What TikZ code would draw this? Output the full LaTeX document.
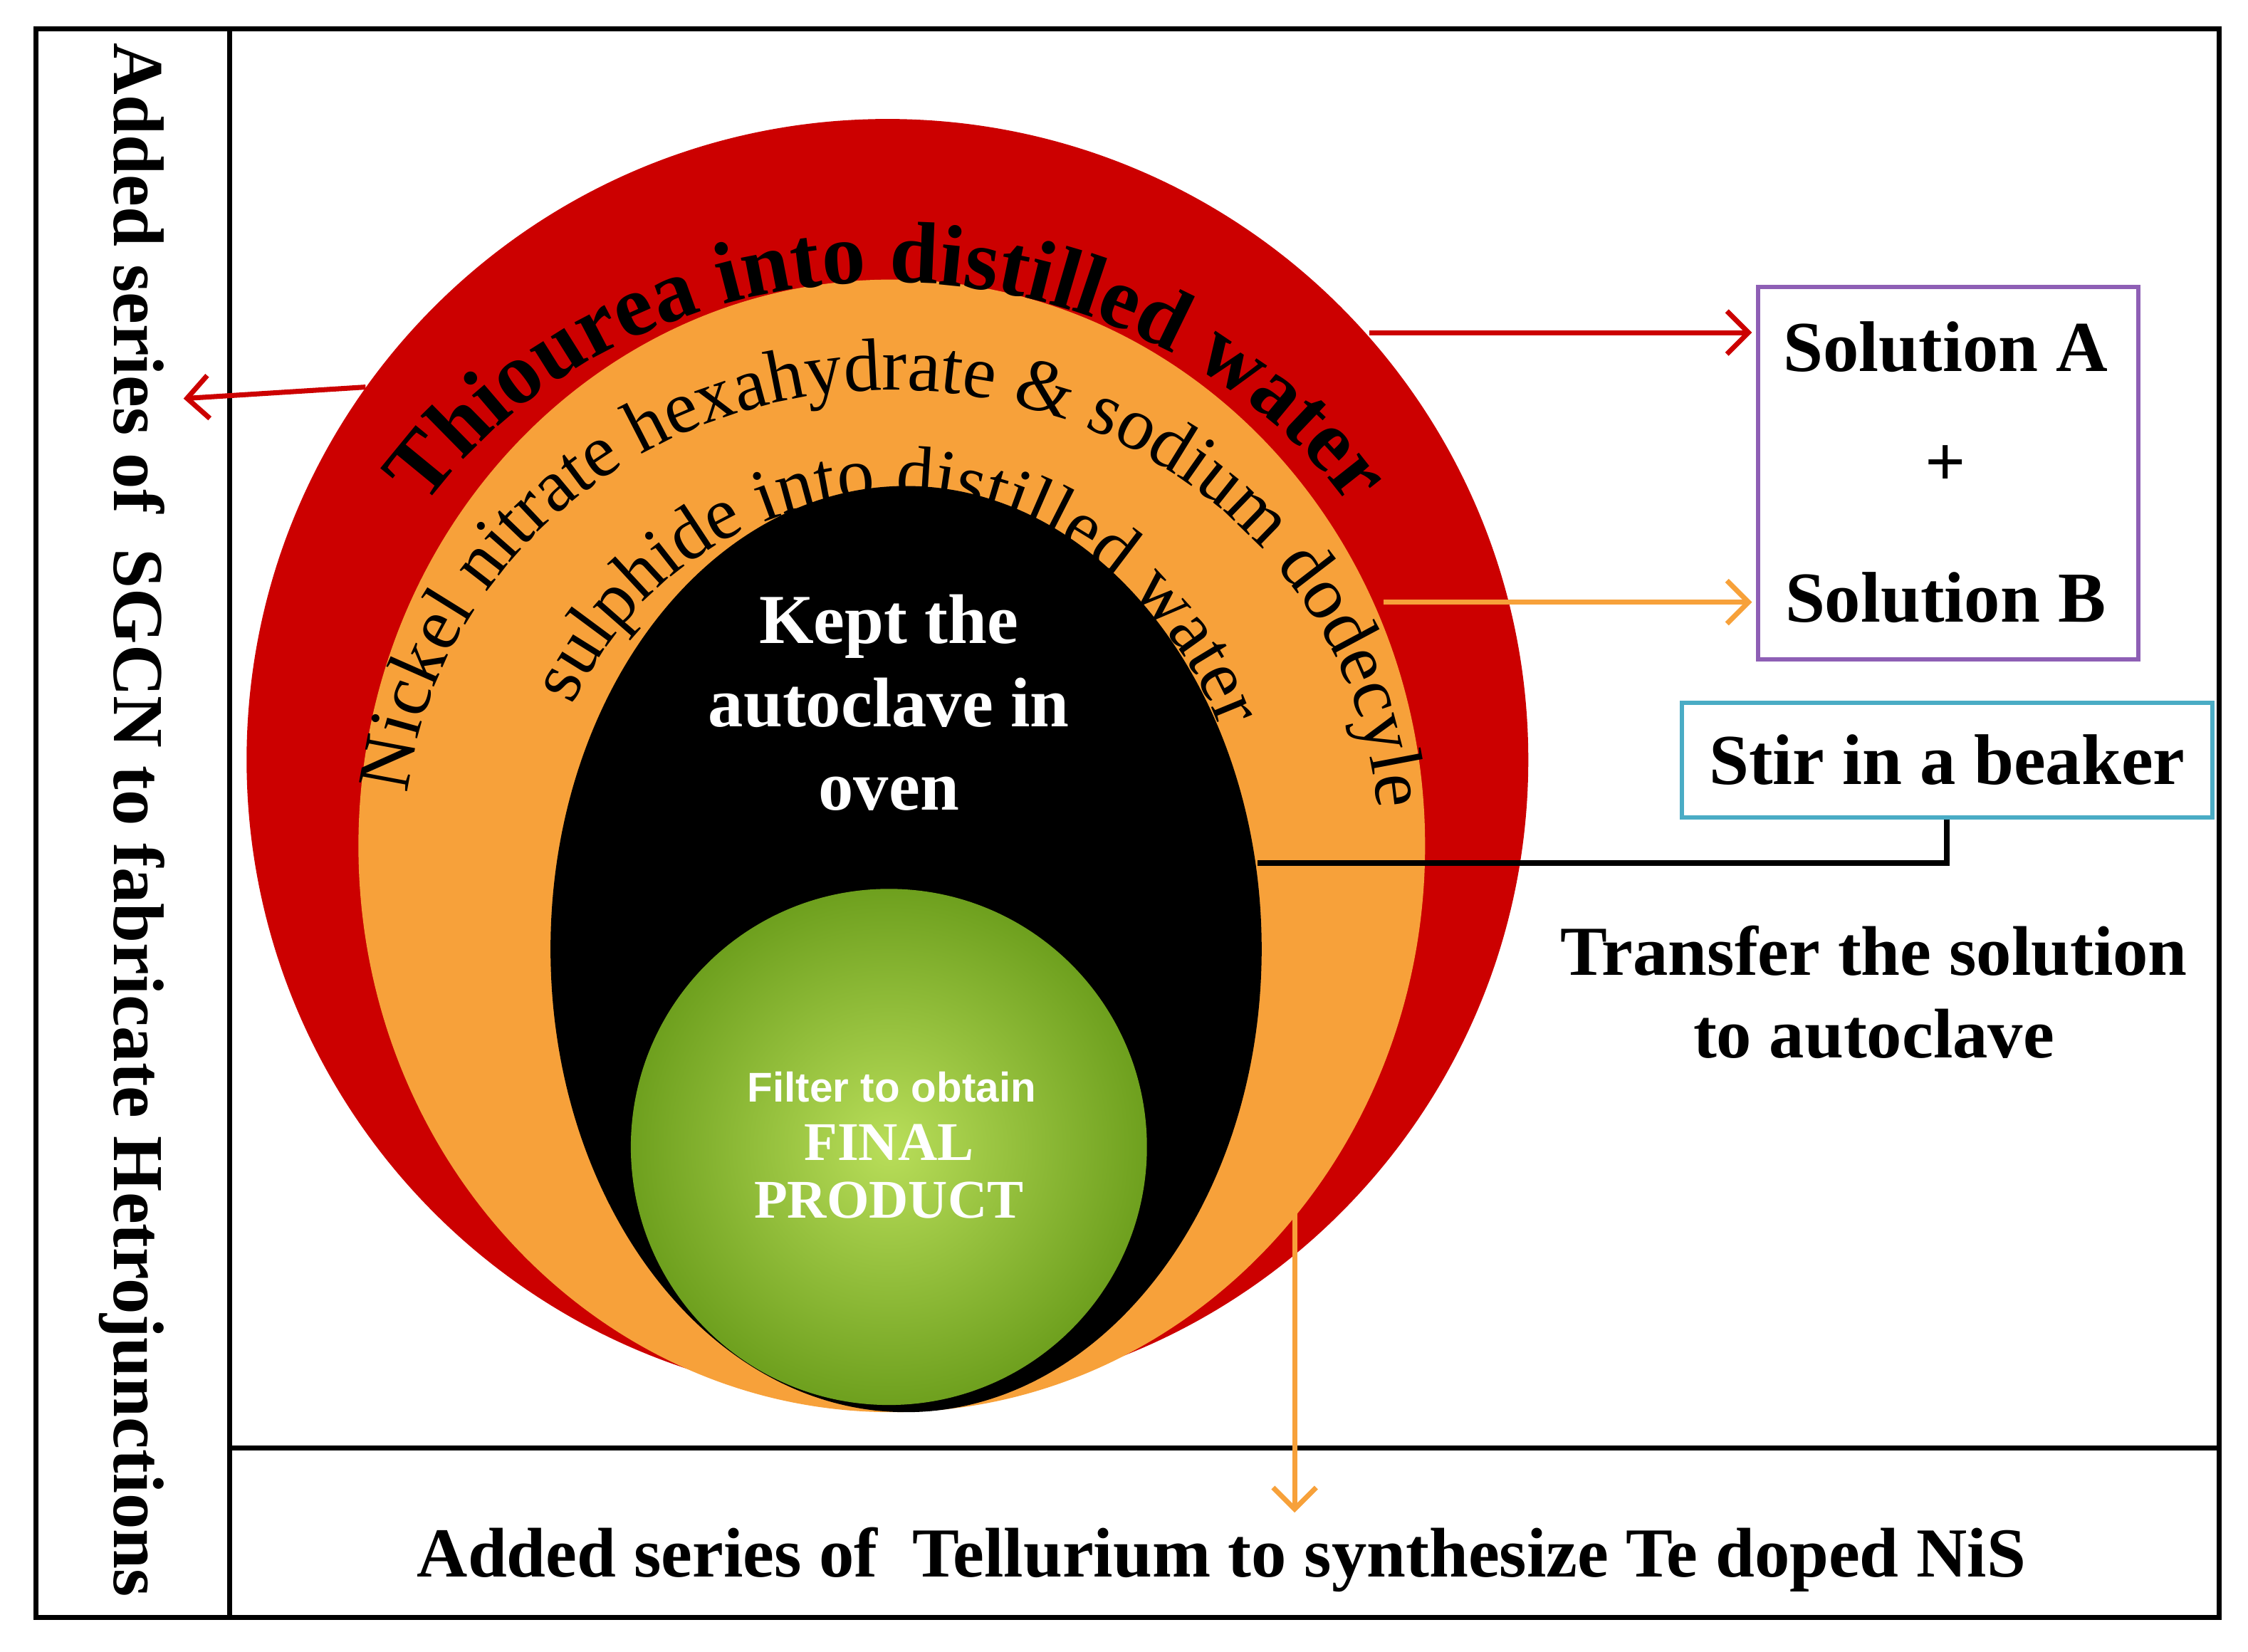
\documentclass[tikz,border=0pt]{standalone}
\usepackage{fontspec}
\setmainfont{Liberation Serif}
\newfontfamily\sansf{Liberation Sans}
\usetikzlibrary{decorations.text,arrows.meta}
\definecolor{redring}{HTML}{CC0000}
\definecolor{orring}{HTML}{F7A13A}
\definecolor{purp}{HTML}{8E5FB5}
\definecolor{cyanb}{HTML}{4AACC5}
\newcommand{\bigbf}{\fontsize{61}{66}\selectfont\bfseries}
\newcommand{\ringf}{\fontsize{52}{58}\selectfont}
\begin{document}
\begin{tikzpicture}[x=1pt,y=1pt,
  frame/.style={draw=black,line width=3.5pt},
  arr/.style={line width=3.5pt,-{Straight Barb[length=15pt,width=30pt,line width=3.5pt]}},
  lbl/.style={font=\fontsize{50}{56}\selectfont\bfseries,align=center}]
\useasboundingbox (0,0) rectangle (1568,1152);
% frames
\draw[frame] (25,24) rectangle (1548,1132);
\draw[frame] (160,24) -- (160,1132);
\draw[frame] (160,142) -- (1548,142);
% rings
\fill[redring] (619,622) circle[radius=447];
\fill[orring] (622,562) ellipse[x radius=372,y radius=395];
\fill[black] (632,490) ellipse[x radius=248,y radius=323];
\shade[inner color={rgb,255:red,185;green,222;blue,90},outer color={rgb,255:red,110;green,160;blue,30}] (620,352) circle[radius=180];
% arc texts
\path[decorate,decoration={text along path,text align=center,
  text={|\bigbf|Thiourea into distilled water}}]
  (619,610) ++(160:385 and 345) arc[start angle=160,end angle=20,x radius=385,y radius=345];
\path[decorate,decoration={text along path,text align=center,
  text={|\ringf|Nickel nitrate hexahydrate {\&} sodium dodecyle}}]
  (622,562) ++(182:340 and 318) arc[start angle=182,end angle=-4,x radius=340,y radius=318];
\path[decorate,decoration={text along path,text align=center,
  text={|\ringf|sulphide into distilled water}}]
  (622,555) ++(168:245 and 250) arc[start angle=168,end angle=8,x radius=245,y radius=250];
% inner texts
\node[text=white,font=\fontsize{49}{60}\selectfont\bfseries,align=center] (kept) at (620,662) {Kept the\\[-2pt]autoclave in\\[-2pt]oven};
\node[text=white,font=\sansf\fontsize{29}{32}\selectfont\bfseries] (filt) at (622,394) {Filter to obtain};
\node[text=white,font=\fontsize{38}{40}\selectfont\bfseries,align=center] (fin) at (620,335) {FINAL\\PRODUCT};
% right boxes
\node[draw=purp,line width=3pt,minimum width=265pt,minimum height=260pt] (solbox) at (1359,822) {};
\node[lbl] (sa) at (1357,910) {Solution A};
\node[lbl] (plus) at (1357,827) {+};
\node[lbl] (sb) at (1357,735) {Solution B};
\node[draw=cyanb,line width=3pt,minimum width=370pt,minimum height=80pt,lbl] (stir) at (1358,622) {Stir in a beaker};
\node[font=\fontsize{49}{60}\selectfont\bfseries,align=center] (trans) at (1307,460) {Transfer the solution\\[-2pt]to autoclave};
% arrows
\coordinate (a1s) at (955,920); \coordinate (a1e) at (1222,920);
\draw[arr,redring] (a1s) -- (a1e);
\coordinate (a2s) at (965,732); \coordinate (a2e) at (1222,732);
\draw[arr,orring] (a2s) -- (a2e);
\coordinate (a3s) at (255,882); \coordinate (a3e) at (128,874);
\draw[arr,redring] (a3s) -- (a3e);
\coordinate (bl) at (877,550);
\draw[line width=4pt] (stir.south) |- (bl);
\coordinate (a4s) at (903,392); \coordinate (a4e) at (903,97);
\draw[arr,orring] (a4s) -- (a4e);
% side texts
\node[rotate=-90,font=\fontsize{50}{56}\selectfont\bfseries] (side) at (92,580) {Added series of~ SGCN to fabricate Hetrojunctions};
\node[font=\fontsize{49}{56}\selectfont\bfseries] (bottom) at (852,64) {Added series of~ Tellurium to synthesize Te doped NiS};
\end{tikzpicture}
\end{document}
